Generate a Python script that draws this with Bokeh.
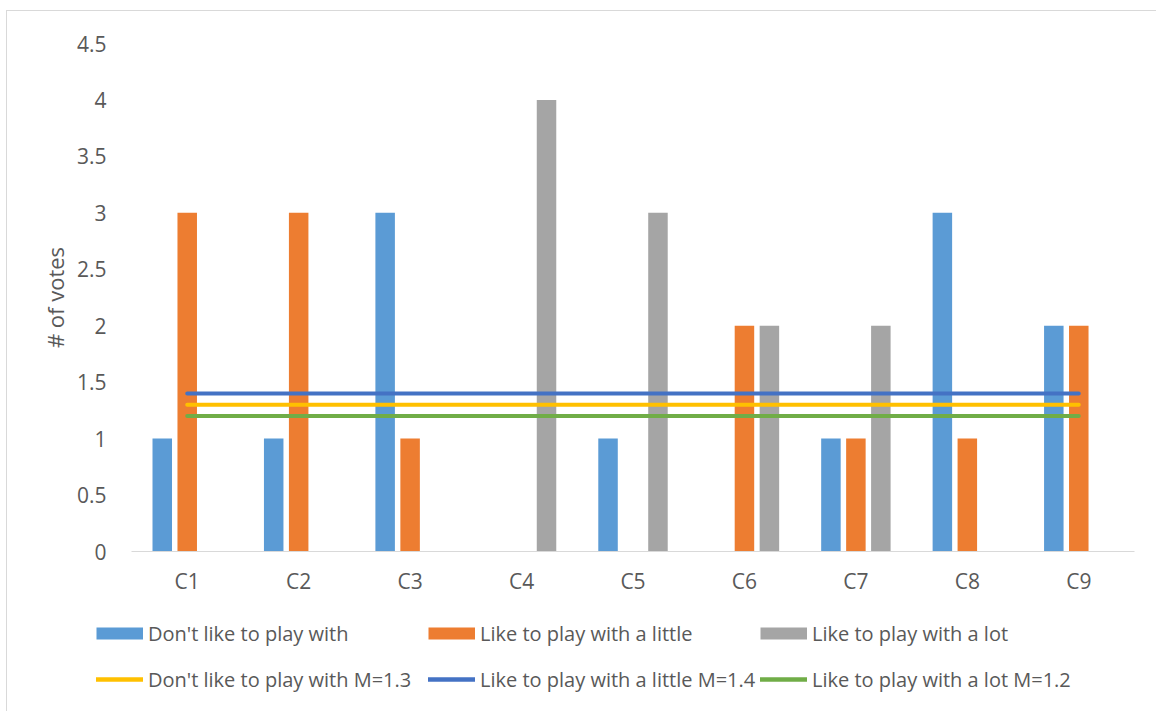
from bokeh.plotting import figure
from bokeh.models import FactorRange, FixedTicker, Legend, LegendItem, ColumnDataSource
from bokeh.layouts import column
from bokeh.transform import dodge
from bokeh.embed import file_html
from bokeh.resources import INLINE

categories = ["C1", "C2", "C3", "C4", "C5", "C6", "C7", "C8", "C9"]
dont_like = [1, 1, 3, 0, 1, 0, 1, 3, 2]
like_little = [3, 3, 1, 0, 0, 2, 1, 1, 2]
like_lot = [0, 0, 0, 4, 3, 2, 2, 0, 0]
mean_dont = 1.3
mean_little = 1.4
mean_lot = 1.2
bar_names = ["Don't like to play with", "Like to play with a little", "Like to play with a lot"]
line_names = ["Don't like to play with M=1.3", "Like to play with a little M=1.4", "Like to play with a lot M=1.2"]
y_ticks = [0, 0.5, 1, 1.5, 2, 2.5, 3, 3.5, 4, 4.5]

FONT = "Open Sans"
TXT = "#595959"
BORDER = "1px solid #D9D9D9"
C_BLUE, C_ORANGE, C_GRAY = "#5B9BD5", "#ED7D31", "#A5A5A5"
C_YELLOW, C_DBLUE, C_GREEN = "#FFC000", "#4472C4", "#70AD47"

src = ColumnDataSource(dict(cat=categories, d=dont_like, l=like_little, a=like_lot))

p = figure(x_range=FactorRange(*categories), y_range=(0, 4.5),
           width=1150, height=600, output_backend="svg", toolbar_location=None,
           min_border_left=124, min_border_right=23, min_border_top=32, min_border_bottom=60)
p.frame_align = False
p.margin = (10, 0, 0, 6)
p.styles = {"border-top": BORDER, "border-left": BORDER}
p.outline_line_color = None
p.xgrid.grid_line_color = None
p.ygrid.grid_line_color = None

bw = 0.175
off = 0.224
p.vbar(x=dodge("cat", -off, range=p.x_range), top="d", width=bw, source=src, fill_color=C_BLUE, line_color=None)
p.vbar(x=dodge("cat", 0, range=p.x_range), top="l", width=bw, source=src, fill_color=C_ORANGE, line_color=None)
p.vbar(x=dodge("cat", off, range=p.x_range), top="a", width=bw, source=src, fill_color=C_GRAY, line_color=None)

p.line(x=categories, y=[mean_dont] * len(categories), line_color=C_YELLOW, line_width=4, line_cap="round")
p.line(x=categories, y=[mean_little] * len(categories), line_color=C_DBLUE, line_width=4, line_cap="round")
p.line(x=categories, y=[mean_lot] * len(categories), line_color=C_GREEN, line_width=4, line_cap="round")

# axes
p.xaxis.axis_line_color = "#D9D9D9"
p.xaxis.axis_line_width = 1
p.xaxis.major_tick_line_color = None
p.xaxis.minor_tick_line_color = None
p.xaxis.major_label_text_font = FONT
p.xaxis.major_label_text_font_size = "21px"
p.xaxis.major_label_text_color = TXT
p.xaxis.major_label_standoff = 9

p.yaxis.axis_line_color = None
p.yaxis.major_tick_line_color = None
p.yaxis.minor_tick_line_color = None
p.yaxis.ticker = FixedTicker(ticks=y_ticks)
p.yaxis.major_label_overrides = {t: ("%g" % t) for t in y_ticks}
p.yaxis.major_label_text_font = FONT
p.yaxis.major_label_text_font_size = "21px"
p.yaxis.major_label_text_color = TXT
p.yaxis.major_label_standoff = 19
p.yaxis.axis_label = "# of votes"
p.yaxis.axis_label_text_font = FONT
p.yaxis.axis_label_text_font_size = "22px"
p.yaxis.axis_label_text_font_style = "normal"
p.yaxis.axis_label_text_color = TXT
p.yaxis.axis_label_standoff = 4

# legend strip below the chart
lf = figure(width=1150, height=101, output_backend="svg", toolbar_location=None,
            x_range=(0, 1), y_range=(0, 1), x_axis_type=None, y_axis_type=None,
            min_border=0, min_border_left=0, min_border_right=0, min_border_top=0, min_border_bottom=0)
lf.frame_align = False
lf.margin = (0, 0, 0, 6)
lf.styles = {"border-left": BORDER}
lf.outline_line_color = None
lf.xgrid.grid_line_color = None
lf.ygrid.grid_line_color = None

hx = [-5, -4]
hy = [-5, -5]
s1 = lf.line(x=hx, y=hy, line_color=C_BLUE, line_width=12, line_cap="butt")
s2 = lf.line(x=hx, y=hy, line_color=C_ORANGE, line_width=12, line_cap="butt")
s3 = lf.line(x=hx, y=hy, line_color=C_GRAY, line_width=12, line_cap="butt")
m1 = lf.line(x=hx, y=hy, line_color=C_YELLOW, line_width=4.5, line_cap="round")
m2 = lf.line(x=hx, y=hy, line_color=C_DBLUE, line_width=4.5, line_cap="round")
m3 = lf.line(x=hx, y=hy, line_color=C_GREEN, line_width=4.5, line_cap="round")

items = [
    LegendItem(label=bar_names[0], renderers=[s1]),
    LegendItem(label=bar_names[1], renderers=[s2]),
    LegendItem(label=bar_names[2], renderers=[s3]),
    LegendItem(label=line_names[0], renderers=[m1]),
    LegendItem(label=line_names[1], renderers=[m2]),
    LegendItem(label=line_names[2], renderers=[m3]),
]
leg = Legend(items=items, orientation="horizontal", ncols=3, location=(89, 9),
             glyph_width=47, glyph_height=46, label_height=46, label_width=280, label_standoff=5,
             padding=0, margin=0, spacing=0, border_line_color=None, background_fill_alpha=0,
             label_text_font=FONT, label_text_font_size="20px", label_text_color=TXT)
lf.add_layout(leg, "center")

layout = column(p, lf, spacing=0)
open("out.html", "w").write(file_html(layout, INLINE))
